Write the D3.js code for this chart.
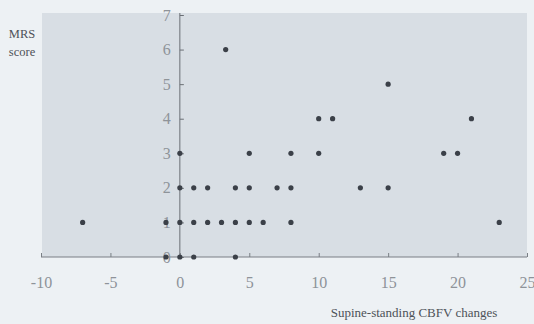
<!DOCTYPE html>
<html>
<head>
<meta charset="utf-8">
<script src="https://cdn.jsdelivr.net/npm/d3@7"></script>
<style>
  body { margin: 0; background: #edf1f4; }
  svg { display: block; }
</style>
</head>
<body>
<div id="chart"></div>
<script>
// CBFV change (x) and MRS score (y), one entry per patient
var cbfv = [-7, -1, -1, 0, 0, 0, 0, 1, 1, 1, 2, 2, 3, 3.3, 4, 4, 4, 5, 5, 5,
            6, 7, 8, 8, 8, 10, 10, 11, 13, 15, 15, 19, 20, 21, 23];
var mrs  = [1, 1, 0, 0, 1, 2, 3, 0, 1, 2, 1, 2, 1, 6, 0, 1, 2, 1, 2, 3,
            1, 2, 1, 2, 3, 3, 4, 4, 2, 2, 5, 3, 3, 4, 1];
var xTicks = [-10, -5, 0, 5, 10, 15, 20, 25];
var yTicks = [0, 1, 2, 3, 4, 5, 6, 7];

var width = 534,
    height = 324;

var plotLeft = 42, plotRight = 527,
    plotTop = 13, plotBottom = 257;

var x = d3.scaleLinear().domain([-10, 25]).range([41, 527]);
var y = d3.scaleLinear().domain([0, 7]).range([257, 15]);

var svg = d3.select("#chart").append("svg")
  .attr("width", width)
  .attr("height", height);

// gray plot panel
svg.append("rect")
  .attr("x", plotLeft)
  .attr("y", plotTop)
  .attr("width", plotRight - plotLeft)
  .attr("height", plotBottom - plotTop)
  .attr("fill", "#d8dee4");

// X AXIS (ticks pointing up)
var xAxis = svg.append("g")
  .attr("transform", "translate(0," + y(0) + ")")
  .call(d3.axisBottom(x).tickValues(xTicks).tickSize(-4).tickPadding(20)
    .tickFormat(function(d){ return "" + d; }));
xAxis.select(".domain").attr("stroke", "#7a7f85").attr("d", "M" + x(-10) + ",0H" + x(25));
xAxis.selectAll(".tick line").attr("stroke", "#7a7f85");
xAxis.selectAll("text")
  .attr("fill", "#8e9399")
  .attr("font-family", "Liberation Serif")
  .attr("font-size", "16px");

// Y AXIS (ticks pointing right)
var yAxis = svg.append("g")
  .attr("transform", "translate(" + x(0) + ",0)")
  .call(d3.axisLeft(y).tickValues(yTicks).tickSize(-4).tickPadding(9)
    .tickFormat(function(d){ return "" + d; }));
yAxis.select(".domain").attr("stroke", "#6a6f75").attr("d", "M0," + y(0) + "V" + plotTop);
yAxis.selectAll(".tick line").attr("stroke", "#6a6f75");
yAxis.selectAll("text")
  .attr("fill", "#8e9399")
  .attr("font-family", "Liberation Serif")
  .attr("font-size", "16px");

// POINTS
var points = cbfv.map(function(d, i){ return [d, mrs[i]]; });
svg.selectAll("circle.pt")
  .data(points).enter()
  .append("circle")
  .attr("class", "pt")
  .attr("cx", function(d){ return x(d[0]); })
  .attr("cy", function(d){ return y(d[1]); })
  .attr("r", 2.6)
  .attr("fill", "#3b4048");

// LABELS
svg.append("text")
  .text("MRS")
  .attr("x", 22).attr("y", 38)
  .attr("text-anchor", "middle")
  .attr("font-family", "Liberation Serif")
  .attr("font-size", "12.5px")
  .attr("fill", "#4d5258");
svg.append("text")
  .text("score")
  .attr("x", 22).attr("y", 56)
  .attr("text-anchor", "middle")
  .attr("font-family", "Liberation Serif")
  .attr("font-size", "12.5px")
  .attr("fill", "#4d5258");
svg.append("text")
  .text("Supine-standing CBFV changes")
  .attr("x", 414).attr("y", 317)
  .attr("text-anchor", "middle")
  .attr("font-family", "Liberation Serif")
  .attr("font-size", "13px")
  .attr("fill", "#4d5258");
</script>
</body>
</html>
